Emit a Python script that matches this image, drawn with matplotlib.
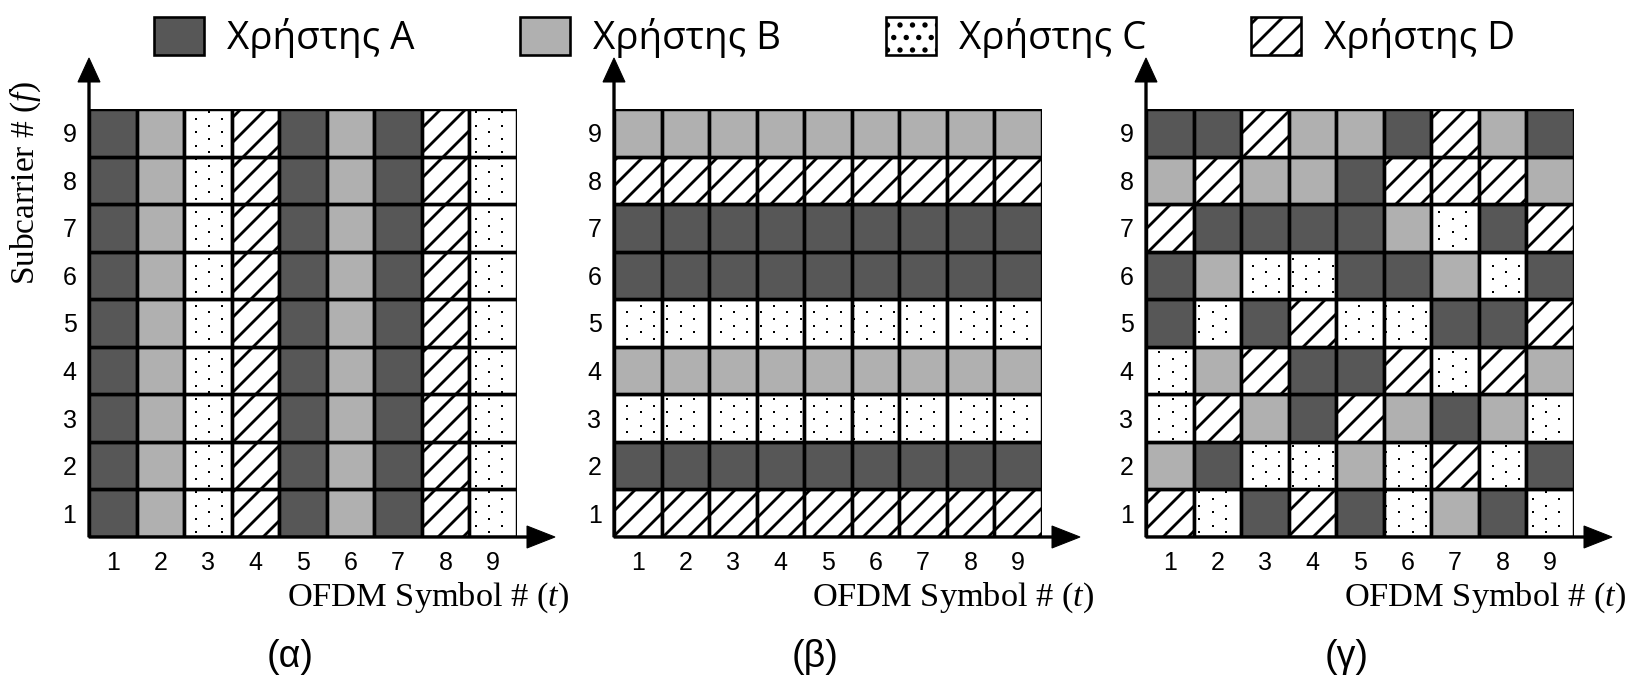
import numpy as np
import matplotlib
matplotlib.use("Agg")
import matplotlib.pyplot as plt
from matplotlib.patches import Rectangle, Patch

# ---------------- data ----------------
symbols = [1, 2, 3, 4, 5, 6, 7, 8, 9]          # OFDM symbol index (t)
subcarriers = [1, 2, 3, 4, 5, 6, 7, 8, 9]      # subcarrier index (f)
users = ["A", "B", "C", "D"]
user_labels = ["Χρήστης A", "Χρήστης B", "Χρήστης C", "Χρήστης D"]
panel_titles = ["(α)", "(β)", "(γ)"]

# (α) allocation per OFDM symbol (same on all subcarriers)
alloc_alpha_cols = ["A", "B", "C", "D", "A", "B", "A", "D", "C"]
# (β) allocation per subcarrier 1..9 (same on all symbols)
alloc_beta_rows = ["D", "A", "C", "B", "C", "A", "A", "D", "B"]
# (γ) allocation, rows listed from subcarrier 9 (top) down to subcarrier 1
alloc_gamma_rows_top_down = [
    "AADBBADBA",
    "BDBBADDDB",
    "DAAAABCAD",
    "ABCCAABCA",
    "ACADCCAAD",
    "CBDAADCDB",
    "CDBADBABC",
    "BACCBCDCA",
    "DCADACBAC",
]

# ---------------- styles ----------------
FACE = {"A": "#575757", "B": "#b0b0b0", "C": "white", "D": "white"}
HATCH = {"A": None, "B": None, "C": None, "D": "/"}
LEG_HATCH = {"A": None, "B": None, "C": ".", "D": "/"}

DPI = 75
W, H = 1640, 677
plt.rcParams["hatch.linewidth"] = 2.7
plt.rcParams["mathtext.fontset"] = "custom"
plt.rcParams["mathtext.rm"] = "Liberation Serif"
plt.rcParams["mathtext.it"] = "Liberation Serif:italic"

fig = plt.figure(figsize=(W / DPI, H / DPI), dpi=DPI)

# build grids: grid[j][i] -> user at subcarrier j+1, symbol i+1
n = len(symbols)
grid_alpha = [[alloc_alpha_cols[i] for i in range(n)] for j in range(n)]
grid_beta = [[alloc_beta_rows[j] for i in range(n)] for j in range(n)]
grid_gamma = [list(r) for r in alloc_gamma_rows_top_down[::-1]]
grids = [grid_alpha, grid_beta, grid_gamma]

panel_left_px = [89, 614, 1146]
grid_top_px, grid_bottom_px = 109, 537
grid_px = grid_bottom_px - grid_top_px
cell_px = grid_px / n

tick_font = dict(family="Liberation Sans", size=24)

for p, grid in enumerate(grids):
    left = panel_left_px[p]
    ax = fig.add_axes([left / W, 1 - grid_bottom_px / H, grid_px / W, grid_px / H])
    ax.set_xlim(0.5, n + 0.5)
    ax.set_ylim(0.5, n + 0.5)
    for s in ax.spines.values():
        s.set_visible(False)

    # cells
    for j, f in enumerate(subcarriers):
        for i, t in enumerate(symbols):
            u = grid[j][i]
            ax.add_patch(Rectangle((t - 0.5, f - 0.5), 1, 1, facecolor=FACE[u],
                                   edgecolor="black", lw=3.1, hatch=HATCH[u],
                                   zorder=2))

    # dotted texture for user C
    step = 13.33 / cell_px
    gx = np.arange(0.5, n + 0.5 + 1e-9, step)
    gy = np.arange(0.5 - step, n + 0.5 + step, step)
    X, Y = np.meshgrid(gx, gy)
    Y = Y + (np.arange(len(gx)) % 2)[None, :] * step / 2 + 0.1
    X, Y = X.ravel(), Y.ravel()
    ci = np.floor(X - 0.5).astype(int)
    cj = np.floor(Y - 0.5).astype(int)
    ok = (ci >= 0) & (ci < n) & (cj >= 0) & (cj < n)
    X, Y, ci, cj = X[ok], Y[ok], ci[ok], cj[ok]
    fx = (X - 0.5) - ci
    fy = (Y - 0.5) - cj
    inside = (fx > 0.04) & (fx < 0.96) & (fy > 0.04) & (fy < 0.96)
    isC = np.array([grid[b][a] == "C" for a, b in zip(ci, cj)])
    m = inside & isC
    ax.scatter(X[m], Y[m], s=8, marker="s", color="black", linewidths=0, zorder=3)

    # redraw borders on top of dots
    for j, f in enumerate(subcarriers):
        for i, t in enumerate(symbols):
            ax.add_patch(Rectangle((t - 0.5, f - 0.5), 1, 1, facecolor="none",
                                   edgecolor="black", lw=3.1, zorder=4))

    # axis arrows
    ax.arrow(0.5, 0.5, 0, n + 51 / cell_px, width=2.2 / cell_px,
             head_width=22 / cell_px, head_length=24 / cell_px,
             length_includes_head=True, color="black", clip_on=False, zorder=5)
    ax.arrow(0.5, 0.5, n + 38 / cell_px, 0, width=2.2 / cell_px,
             head_width=22 / cell_px, head_length=28 / cell_px,
             length_includes_head=True, color="black", clip_on=False, zorder=5)

    # ticks
    ax.set_xticks(symbols)
    ax.set_xticklabels([str(v) for v in symbols], fontdict=tick_font)
    ax.set_yticks(subcarriers)
    ax.set_yticklabels([str(v) for v in subcarriers], fontdict=tick_font)
    ax.tick_params(axis="x", length=0, pad=13)
    ax.tick_params(axis="y", length=0, pad=12)

    # axis labels
    ax.text(n + 0.5 + 52 / cell_px, 0.5 - 69 / cell_px, r"OFDM Symbol # ($t$)",
            ha="right", va="baseline", family="Liberation Serif",
            size=33, clip_on=False)
    if p == 0:
        ax.text(0.5 - 64 / cell_px, 0.5 + (grid_bottom_px - 183) / cell_px,
                r"Subcarrier # ($f$)", rotation=90, ha="center", va="center",
                family="Liberation Serif", size=32, clip_on=False)

    ax.text(0.5 + 201 / cell_px, 0.5 - 120 / cell_px, panel_titles[p],
            ha="center", va="center", family="Liberation Sans", size=36,
            clip_on=False)

# legend
handles = [Patch(facecolor=FACE[u], edgecolor="black", hatch=LEG_HATCH[u],
                 lw=2.5) for u in users]
fig.legend(handles, user_labels, loc="upper left",
           bbox_to_anchor=(154 / W, 1 - 17 / H), ncol=4, frameon=False,
           handlelength=1.3, handleheight=1.15, handletextpad=0.6,
           columnspacing=2.72, borderpad=0, borderaxespad=0,
           prop=dict(family="Open Sans", size=37))

fig.savefig("out.png", dpi=DPI, facecolor="white")
